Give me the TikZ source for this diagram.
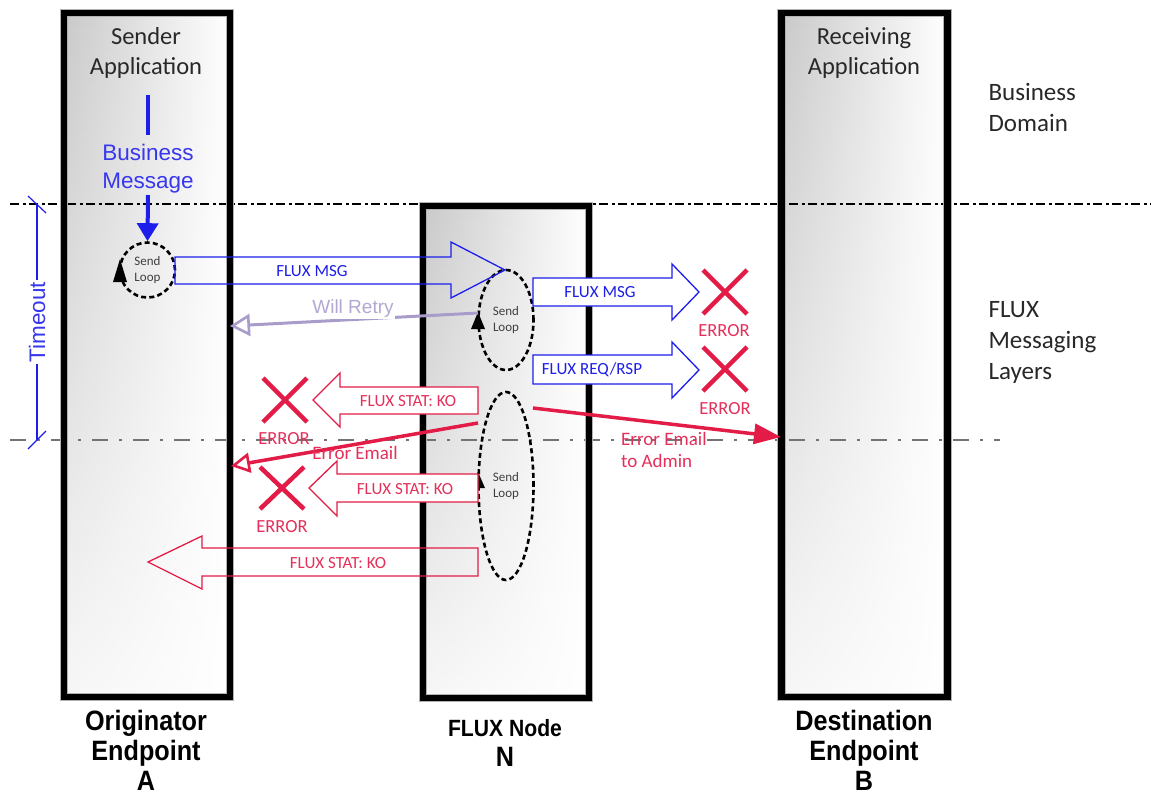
\documentclass[tikz,border=0pt]{standalone}
\usepackage{fontspec}
\setmainfont{Carlito}
\newfontfamily\arialf{Liberation Sans}
\newfontfamily\narrowf[FakeStretch=0.9]{Liberation Sans}
\usetikzlibrary{arrows.meta,shapes.geometric,fadings}
\definecolor{fblue}{RGB}{30,30,235}
\definecolor{tblue}{RGB}{55,55,238}
\definecolor{fred}{RGB}{226,28,70}
\definecolor{tred}{RGB}{228,48,90}
\definecolor{lav}{RGB}{168,156,202}
\definecolor{tlav}{RGB}{178,168,210}
\definecolor{dtext}{RGB}{40,40,40}
\begin{document}
\begin{tikzpicture}[x=1pt,y=-1pt,
  colshade/.style={left color=black!21, right color=white, minimum width=166pt, inner sep=0pt},
  colfade/.style={fill=white, path fading=north, fill opacity=0.85},
  colborder/.style={line width=6.5pt, draw=black},
  colhalo/.style={line width=8.5pt, draw=black!30},
  loopell/.style={ellipse, draw=black, line width=2.6pt, dash pattern=on 5pt off 3.2pt, inner sep=0pt},
  looptxt/.style={font=\fontsize{13}{16}\selectfont, text=black!75, align=center},
  looptri/.style={fill=black},
  bluearr/.style={draw=fblue, line width=1.3pt, line join=miter},
  redarr/.style={draw=fred, line width=1.3pt, line join=miter},
  bluelbl/.style={font=\fontsize{17}{20}\selectfont, text=fblue, inner sep=1pt},
  redlbl/.style={font=\fontsize{17}{20}\selectfont, text=tred, inner sep=1pt},
  xmark/.style={draw=fred, line width=4.5pt},
  errlbl/.style={font=\fontsize{18.5}{20}\selectfont, text=tred},
  bigtxt/.style={font=\fontsize{24.5}{30}\selectfont, text=dtext, align=center},
  sidetxt/.style={font=\fontsize{25}{31}\selectfont, text=dtext, align=left, anchor=west},
  botlbl/.style={font=\narrowf\bfseries\fontsize{28}{30}\selectfont, text=black, align=center},
  bizline/.style={draw=black, line width=2.5pt, dash pattern=on 9pt off 3.5pt on 3pt off 3.5pt},
  lowline/.style={draw=black!55, line width=1.2pt, dash pattern=on 16pt off 11pt on 3pt off 11pt},
  tline/.style={draw=fblue, line width=1.2pt}
]
\useasboundingbox (0,0) rectangle (1151,796);
\fill[white] (0,0) rectangle (1151,796);

% columns (shading)
\node[colshade, minimum height=684pt] (A) at (147,355) {};
\node[colshade, minimum height=492pt] (N) at (506,452) {};
\node[colshade, minimum height=684pt] (B) at (864.5,355) {};
\foreach \c in {A,N,B}{
  \fill[colfade] (\c.north west) rectangle (\c.south east);
}

% layer lines
\coordinate (bz1) at (10,204); \coordinate (bz2) at (1151,204);
\coordinate (lw1) at (10,440); \coordinate (lw2) at (1000,440);
\draw[bizline] (bz1) -- (bz2);
\draw[lowline] (lw1) -- (lw2);

% column borders
\foreach \c in {A,N,B}{
  \draw[colhalo] (\c.north west) rectangle (\c.south east);
  \draw[colborder] (\c.north west) rectangle (\c.south east);
}

% timeout
\coordinate (tT) at (37,204); \coordinate (tB) at (37,440);
\draw[tline] (tT) -- (tB);
\draw[tline] (28,196) -- (46,213);
\draw[tline] (28,449) -- (46,431);
\node[rotate=90, fill=white, inner sep=1.5pt, font=\arialf\fontsize{22.5}{24}\selectfont, text=tblue] (tmo) at (37,322) {Timeout};

% texts
\node[bigtxt] (sa) at (146,53) {Sender\\Application};
\node[bigtxt] (ra) at (864,53) {Receiving\\Application};
\node[sidetxt] (bd) at (985,107) {Business\\Domain};
\node[sidetxt] (fm) at (985,342) {FLUX\\Messaging\\Layers};
\node[align=center, font=\arialf\fontsize{22.5}{28}\selectfont, text=tblue] (bm) at (148,169) {Business\\Message};

% loops
\node[loopell, minimum width=55pt, minimum height=55pt] (L0) at (147.5,270) {};
\node[looptxt] at (L0) {Send\\Loop};
\node[loopell, minimum width=55pt, minimum height=100pt] (L1) at (506,320) {};
\node[looptxt] at (L1) {Send\\Loop};
\node[loopell, minimum width=55pt, minimum height=188pt] (L2) at (506,486) {};
\node[looptxt] at (L2) {Send\\Loop};
\fill[looptri] (120,259) -- (127,282) -- (113,282) -- cycle;
\fill[looptri] (478,312) -- (485,329) -- (471,329) -- cycle;
\fill[looptri] (478,472) -- (485,488) -- (471,488) -- cycle;

% business message arrow
\coordinate (bl1) at (148,95); \coordinate (bl2) at (148,135);
\coordinate (ba1) at (148,195);
\draw[fblue, line width=4pt] (bl1) -- (bl2);
\draw[fblue, line width=4pt, -{Triangle[length=18pt,width=21pt]}] (ba1) -- (L0.north);

% block arrows
\draw[bluearr] (175,257) -- (451,257) -- (451,242) -- (505,270) -- (451,298) -- (451,284) -- (175,284) -- cycle;
\node[bluelbl] (m1) at (312,271) {FLUX MSG};
\draw[bluearr, fill=white] (533,278) -- (672,278) -- (672,264) -- (699,292) -- (672,320) -- (672,306) -- (533,306) -- cycle;
\node[bluelbl] (m2) at (600,292) {FLUX MSG};
\draw[bluearr, fill=white] (533,355) -- (672,355) -- (672,342) -- (699,370) -- (672,398) -- (672,384) -- (533,384) -- cycle;
\node[bluelbl] (m3) at (592,370) {FLUX REQ/RSP};

\draw[redarr, fill=white] (478,387) -- (340,387) -- (340,373) -- (313,400) -- (340,427) -- (340,414) -- (478,414) -- cycle;
\node[redlbl] (k1) at (408,401) {FLUX STAT: KO};
\draw[redarr, fill=white] (478,474) -- (337,474) -- (337,461) -- (309,488) -- (337,516) -- (337,502) -- (478,502) -- cycle;
\node[redlbl] (k2) at (405,489) {FLUX STAT: KO};
\draw[redarr] (478,548) -- (202,548) -- (202,536) -- (148,562) -- (202,589) -- (202,576) -- (478,576) -- cycle;
\node[redlbl] (k3) at (338,563) {FLUX STAT: KO};

% error marks
\draw[xmark] (703,270) -- (747,314) (747,270) -- (703,314);
\node[errlbl] (er1) at (724,331) {ERROR};
\draw[xmark] (703,347) -- (747,391) (747,347) -- (703,391);
\node[errlbl] (er2) at (725,409) {ERROR};
\draw[xmark] (263,378) -- (307,422) (307,378) -- (263,422);
\node[errlbl] (er3) at (284,439) {ERROR};
\draw[xmark] (260,467) -- (304,509) (304,467) -- (260,509);
\node[errlbl] (er4) at (282,527) {ERROR};

% will retry
\coordinate (wr1) at (478,313); \coordinate (wr2) at (230,326);
\draw[lav, line width=3pt, -{Triangle[open,length=20pt,width=22pt,line width=2.6pt]}] (wr1) -- (wr2);
\node[fill=white, inner sep=1pt, font=\arialf\fontsize{19}{22}\selectfont, text=tlav] (wrt) at (353,309) {Will Retry};

% error emails
\coordinate (ee1) at (478,423); \coordinate (ee2) at (231,466);
\draw[fred, line width=3.5pt, -{Triangle[open,length=19pt,width=20pt,line width=2.6pt]}] (ee1) -- (ee2);
\node[font=\fontsize{19}{22}\selectfont, text=tred, inner sep=1pt] (eet) at (355,453) {Error Email};
\coordinate (ea1) at (533,408); \coordinate (ea2) at (781,437);
\draw[fred, line width=3.5pt, -{Triangle[length=27pt,width=20pt]}] (ea1) -- (ea2);
\node[font=\fontsize{19}{22}\selectfont, text=tred, align=left, anchor=west, inner sep=0pt] (eat) at (621,450) {Error Email\\to Admin};

% bottom labels
\node[botlbl] (oa) at (146,750) {Originator\\Endpoint\\A};
\node[botlbl] (db) at (864,750) {Destination\\Endpoint\\B};
\node[font=\narrowf\bfseries\fontsize{23.5}{26}\selectfont] (fn) at (505,728) {FLUX Node};
\node[font=\narrowf\bfseries\fontsize{28}{31}\selectfont] (nn) at (505,757) {N};
\end{tikzpicture}
\end{document}
